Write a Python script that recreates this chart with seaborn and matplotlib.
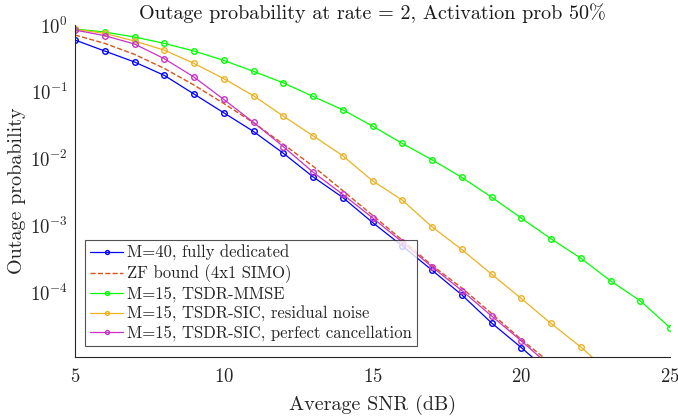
import matplotlib
matplotlib.use("Agg")
import matplotlib.pyplot as plt
import seaborn as sns
import numpy as np
import pandas as pd
from matplotlib.ticker import NullLocator, FixedLocator

# ---- data ----
snr_m40 = [5, 6, 7, 8, 9, 10, 11, 12, 13, 14, 15, 16, 17, 18, 19, 20, 21]
p_m40 = [0.596, 0.407, 0.279, 0.176, 0.0923, 0.0484, 0.0254, 0.0120, 0.00531,
         0.0026, 0.00110, 0.00049, 0.000212, 9.06e-5, 3.44e-5, 1.47e-5, 6.0e-6]

snr_zf = [5, 6, 7, 8, 9, 10, 11, 12, 13, 14, 15, 16, 17, 18, 19, 20, 21]
p_zf = [0.708, 0.531, 0.363, 0.224, 0.126, 0.0668, 0.0343, 0.0164, 0.00767,
        0.0033, 0.00141, 0.00060, 0.00025, 0.000115, 4.77e-5, 1.94e-5, 8.5e-6]

snr_mmse = [5, 6, 7, 8, 9, 10, 11, 12, 13, 14, 15, 16, 17, 18, 19, 20, 21, 22, 23, 24, 25]
p_mmse = [0.871, 0.785, 0.661, 0.531, 0.407, 0.295, 0.202, 0.136, 0.0851, 0.0537,
          0.0306, 0.0168, 0.00957, 0.00521, 0.00264, 0.00128, 0.000625, 0.000321,
          0.000147, 7.36e-5, 2.93e-5]

snr_res = [5, 6, 7, 8, 9, 10, 11, 12, 13, 14, 15, 16, 17, 18, 19, 20, 21, 22, 23]
p_res = [0.86, 0.75, 0.575, 0.42, 0.266, 0.157, 0.0871, 0.0432, 0.0219, 0.011,
         0.00463, 0.00238, 0.000946, 0.000433, 0.000185, 7.98e-5, 3.37e-5, 1.50e-5, 6.0e-6]

snr_perf = [5, 6, 7, 8, 9, 10, 11, 12, 13, 14, 15, 16, 17, 18, 19, 20, 21]
p_perf = [0.841, 0.692, 0.519, 0.313, 0.166, 0.0767, 0.0347, 0.0151, 0.00624,
          0.0029, 0.00129, 0.00056, 0.000238, 0.000105, 4.38e-5, 1.85e-5, 7.5e-6]

labels = ["M=40, fully dedicated", "ZF bound (4x1 SIMO)", "M=15, TSDR-MMSE",
          "M=15, TSDR-SIC, residual noise", "M=15, TSDR-SIC, perfect cancellation"]
xticks = [5, 10, 15, 20, 25]
yticks = [1e-4, 1e-3, 1e-2, 1e-1, 1e0]

# ---- style ----
sns.set_style("white")
plt.rcParams["font.family"] = ["cmr10"]
plt.rcParams["mathtext.fontset"] = "cm"
plt.rcParams["axes.formatter.use_mathtext"] = True
plt.rcParams["axes.unicode_minus"] = False

fig = plt.figure(figsize=(6.78, 4.18), dpi=100)
ax = fig.add_axes([75 / 678, 1 - 357 / 418, 595 / 678, 332 / 418])

series = [
    (snr_m40, p_m40, "#0000FF", "o", ""),
    (snr_zf, p_zf, "#D95319", None, (7, 4)),
    (snr_mmse, p_mmse, "#00FF00", "o", ""),
    (snr_res, p_res, "#EDB120", "o", ""),
    (snr_perf, p_perf, "#C832C8", "o", ""),
]

for (xs, ys, col, mk, dash), lab in zip(series, labels):
    df = pd.DataFrame({"snr": xs, "p": ys})
    if mk is None:
        sns.lineplot(data=df, x="snr", y="p", ax=ax, color=col, lw=1.0,
                     linestyle="--", dashes=dash, label=lab)
    else:
        sns.lineplot(data=df, x="snr", y="p", ax=ax, color=col, lw=0.9,
                     marker=mk, markersize=4.0, markerfacecolor="none",
                     markeredgecolor=col, markeredgewidth=1.0, label=lab)

ax.set_yscale("log")
ax.set_xlim(5, 25)
ax.set_ylim(1.06e-5, 1.0)
ax.set_xticks(xticks)
ax.yaxis.set_major_locator(FixedLocator(yticks))
ax.yaxis.set_minor_locator(NullLocator())
ax.xaxis.set_minor_locator(NullLocator())

for s in ["top", "right"]:
    ax.spines[s].set_visible(False)
for s in ["left", "bottom"]:
    ax.spines[s].set_color("#262626")
    ax.spines[s].set_linewidth(0.8)

ax.tick_params(axis="both", direction="in", length=5, width=0.8, color="#262626",
               labelsize=13.5, labelcolor="#262626", pad=8)
ax.tick_params(axis="y", pad=5)

ax.set_xlabel("Average SNR (dB)", fontsize=14.5, color="#262626", labelpad=6)
ax.set_ylabel("Outage probability", fontsize=14.5, color="#262626", labelpad=3)
ax.set_title("Outage probability at rate = 2, Activation prob 50%", fontsize=14.5,
             color="#1a1a1a", pad=4)

leg = ax.legend(loc="upper left", bbox_to_anchor=(10 / 595, 117 / 332),
                borderaxespad=0, frameon=True, fancybox=False, fontsize=12.0,
                handlelength=2.0, handletextpad=0.2, labelspacing=0.2,
                borderpad=0.3, markerscale=0.7)
leg.get_frame().set_edgecolor("#262626")
leg.get_frame().set_linewidth(0.8)
for t in leg.get_texts():
    t.set_color("#262626")

fig.savefig("out.png", dpi=100)
